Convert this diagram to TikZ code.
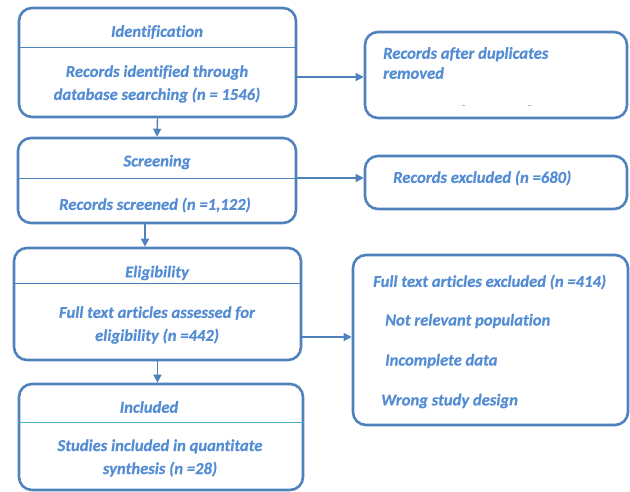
\documentclass[tikz,border=0pt]{standalone}
\usepackage{fontspec}
\setmainfont{Carlito}[BoldFont=Carlito Bold, ItalicFont=Carlito Italic, BoldItalicFont=Carlito Bold Italic, BoldItalicFeatures={FakeBold=0.6}, Ligatures=NoCommon]
\usetikzlibrary{arrows.meta}
\definecolor{boxblue}{RGB}{79,129,189}
\definecolor{txtblue}{RGB}{84,141,212}
\definecolor{teal}{RGB}{75,172,198}
\tikzset{
  box/.style={draw=boxblue, line width=2.6pt, rounded corners=13pt, inner sep=0pt},
  divline/.style={draw=boxblue, line width=0.9pt},
  conn/.style={draw=boxblue, line width=1.4pt, -{Triangle[length=8pt,width=8pt]}},
  lbl/.style={text=txtblue, font=\fontsize{16.6}{23}\selectfont\bfseries\itshape, inner sep=0pt},
}
\begin{document}
\begin{tikzpicture}[x=1pt,y=-1pt]
\useasboundingbox (0,0) rectangle (630,492);
% left column boxes
\node[box, minimum width=277pt, minimum height=109pt] (b1) at (157.5,62.5) {};
\node[box, minimum width=278pt, minimum height=85pt] (b2) at (157,180.5) {};
\node[box, minimum width=287pt, minimum height=112pt] (b3) at (157.5,304) {};
\node[box, minimum width=284pt, minimum height=106pt] (b4) at (161,437) {};
% right column boxes
\node[box, minimum width=262pt, minimum height=86pt] (r1) at (496,75) {};
\node[box, minimum width=262pt, minimum height=53pt] (r2) at (496,182.5) {};
\node[box, minimum width=275pt, minimum height=170pt] (r3) at (490.5,340) {};
% dividers
\coordinate (d1) at (0,47);
\coordinate (d2) at (0,178);
\coordinate (d3) at (0,283);
\coordinate (d4) at (0,422);
\draw[divline] (b1.west |- d1) -- (b1.east |- d1);
\draw[divline] (b2.west |- d2) -- (b2.east |- d2);
\draw[divline] (b3.west |- d3) -- (b3.east |- d3);
\draw[divline, draw=teal] (b4.west |- d4) -- (b4.east |- d4);
% texts
\node[lbl] (t1) at (157,32) {Identification};
\node[lbl, align=center] (t1b) at (157,84) {Records identified through\\database searching (n = 1546)};
\node[lbl] (t2) at (157,162) {Screening};
\node[lbl] (t2b) at (155,205) {Records screened (n =1,122)};
\node[lbl] (t3) at (157,273) {Eligibility};
\node[lbl, align=center] (t3b) at (157,325) {Full text articles assessed for\\eligibility (n =442)};
\node[lbl] (t4) at (149,407) {Included};
\node[lbl, align=center] (t4b) at (160,458) {Studies included in quantitate\\synthesis (n =28)};
\node[lbl, align=left, anchor=west, font=\fontsize{16.6}{20}\selectfont\bfseries\itshape] (tr1) at (383,63) {Records after duplicates\\removed};
\node[lbl, anchor=west] (tr2) at (393,178) {Records excluded (n =680)};
\node[lbl, anchor=west] (tr3a) at (373,282) {Full text articles excluded (n =414)};
\node[lbl, anchor=west] (tr3b) at (385,321) {Not relevant population};
\node[lbl, anchor=west] (tr3c) at (385,361) {Incomplete data};
\node[lbl, anchor=west] (tr3d) at (381,401) {Wrong study design};
% tiny marks
\fill[txtblue!60] (462,104.6) rectangle (464.5,105.4);
\fill[txtblue!60] (528,104.6) rectangle (530.5,105.4);
% connectors
\coordinate (v2) at (145,0);
\coordinate (h1) at (0,77);
\coordinate (h3) at (0,337);
\draw[conn] (b1.south) -- (b2.north);
\draw[conn] (b2.south -| v2) -- (b3.north -| v2);
\draw[conn] (b3.south) -- (b4.north -| b3.south);
\draw[conn] (b1.east |- h1) -- (r1.west |- h1);
\draw[conn] (b2.east |- d2) -- (r2.west |- d2);
\draw[conn] (b3.east |- h3) -- (r3.west |- h3);
\end{tikzpicture}
\end{document}
